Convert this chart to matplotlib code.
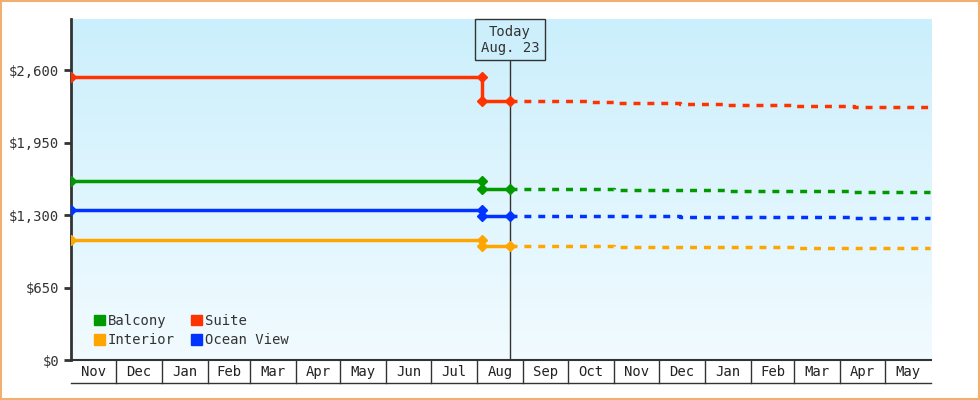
import matplotlib
matplotlib.use("Agg")
import matplotlib.pyplot as plt
import matplotlib.dates as mdates
import numpy as np
from datetime import date
from matplotlib.patches import Rectangle
from matplotlib.colors import LinearSegmentedColormap

series = ["Balcony", "Suite", "Interior", "Ocean View"]
colors = {"Balcony": "#009900", "Suite": "#ff3300", "Interior": "#ffa500", "Ocean View": "#0033ff"}
hist_dates = [date(2022, 11, 1), date(2023, 8, 4), date(2023, 8, 4), date(2023, 8, 23)]
hist_vals = {
    "Suite": [2542, 2542, 2327, 2327],
    "Balcony": [1608, 1608, 1536, 1536],
    "Ocean View": [1348, 1348, 1294, 1294],
    "Interior": [1078, 1078, 1024, 1024],
}
fut_dates = [date(2023, 8, 23), date(2023, 10, 15), date(2023, 11, 1), date(2023, 12, 15),
             date(2024, 1, 15), date(2024, 3, 1), date(2024, 4, 10), date(2024, 5, 31)]
fut_vals = {
    "Suite": [2327, 2318, 2305, 2295, 2290, 2280, 2268, 2255],
    "Balcony": [1536, 1534, 1530, 1528, 1522, 1520, 1512, 1509],
    "Ocean View": [1294, 1292, 1290, 1288, 1286, 1284, 1278, 1276],
    "Interior": [1024, 1022, 1016, 1014, 1012, 1010, 1008, 1006],
}
month_labels = ["Nov", "Dec", "Jan", "Feb", "Mar", "Apr", "May", "Jun", "Jul", "Aug",
                "Sep", "Oct", "Nov", "Dec", "Jan", "Feb", "Mar", "Apr", "May"]
yticks = [0, 650, 1300, 1950, 2600]
today = date(2023, 8, 23)
legend_order = ["Balcony", "Interior", "Suite", "Ocean View"]

plt.rcParams['font.family'] = ['DejaVu Sans Mono']
fig = plt.figure(figsize=(9.8, 4), dpi=100)
fig.patches.append(Rectangle((0.001, 0.002), 0.998, 0.996, transform=fig.transFigure,
                             fill=False, edgecolor="#f0b070", lw=1.5))
ax = fig.add_axes([71/980, 40/400, 860/980, 341/400])
x0 = mdates.date2num(date(2022, 11, 1))
x1 = mdates.date2num(date(2024, 6, 1))
ax.set_xlim(x0, x1)
ax.set_ylim(0, 3062)
grad = np.linspace(0, 1, 256).reshape(-1, 1)
cmap = LinearSegmentedColormap.from_list("bg", ["#f2fbff", "#cbeffc"])
ax.imshow(grad, extent=[0, 1, 0, 1], transform=ax.transAxes, origin="lower",
          cmap=cmap, aspect="auto", zorder=0)

for s in series:
    c = colors[s]
    ax.plot(mdates.date2num(hist_dates), hist_vals[s], color=c, lw=2.5, marker="D",
            ms=5, zorder=3)
    ax.plot(mdates.date2num(fut_dates), fut_vals[s], color=c, lw=2.5, ls=(0, (2, 2)),
            drawstyle="steps-post", zorder=3)

tx = mdates.date2num(today)
ax.axvline(tx, color="#333333", lw=1, zorder=2)
ax.annotate("Today\nAug. 23", xy=(tx, 1), xycoords=("data", "axes fraction"),
            xytext=(0, -15), textcoords="offset points", ha="center", va="center",
            fontsize=10, color="#333333",
            bbox=dict(boxstyle="square,pad=0.4", fc="#cdeffb", ec="#333333", lw=1), zorder=5)

ax.set_yticks(yticks)
ax.set_yticklabels(["$" + format(v, ",") for v in yticks], fontsize=10, color="#333333")
ax.tick_params(axis="y", length=5, width=2, color="#333333")
ax.set_xticks([])
for sp in ["top", "right", "bottom"]:
    ax.spines[sp].set_visible(False)
ax.spines["left"].set_linewidth(2)
ax.spines["left"].set_color("#333333")

trans = ax.get_xaxis_transform()
bounds = []
y, m = 2022, 11
for i in range(len(month_labels) + 1):
    bounds.append(mdates.date2num(date(y, m, 1)))
    m += 1
    if m > 12:
        m = 1; y += 1
ax.plot([x0, x1], [0, 0], transform=trans, color="#333333", lw=1.5, clip_on=False)
ax.plot([x0, x1], [-0.067, -0.067], transform=trans, color="#333333", lw=1, clip_on=False)
for i, lab in enumerate(month_labels):
    if i > 0:
        ax.plot([bounds[i], bounds[i]], [0, -0.067], transform=trans, color="#333333",
                lw=1, clip_on=False)
    ax.text((bounds[i] + bounds[i+1]) / 2, -0.034, lab, transform=trans, ha="center",
            va="center", fontsize=10, color="#222222")

ax.legend(loc="lower left", ncol=2, frameon=False, fontsize=10, handlelength=0.8,
          handleheight=0.8, handletextpad=0.2, columnspacing=1.2, labelspacing=0.4,
          bbox_to_anchor=(0.012, 0.0),
          handles=[Rectangle((0, 0), 1, 1, color=colors[s]) for s in legend_order],
          labels=legend_order, labelcolor="#333333")

fig.savefig("out.png", dpi=100)
